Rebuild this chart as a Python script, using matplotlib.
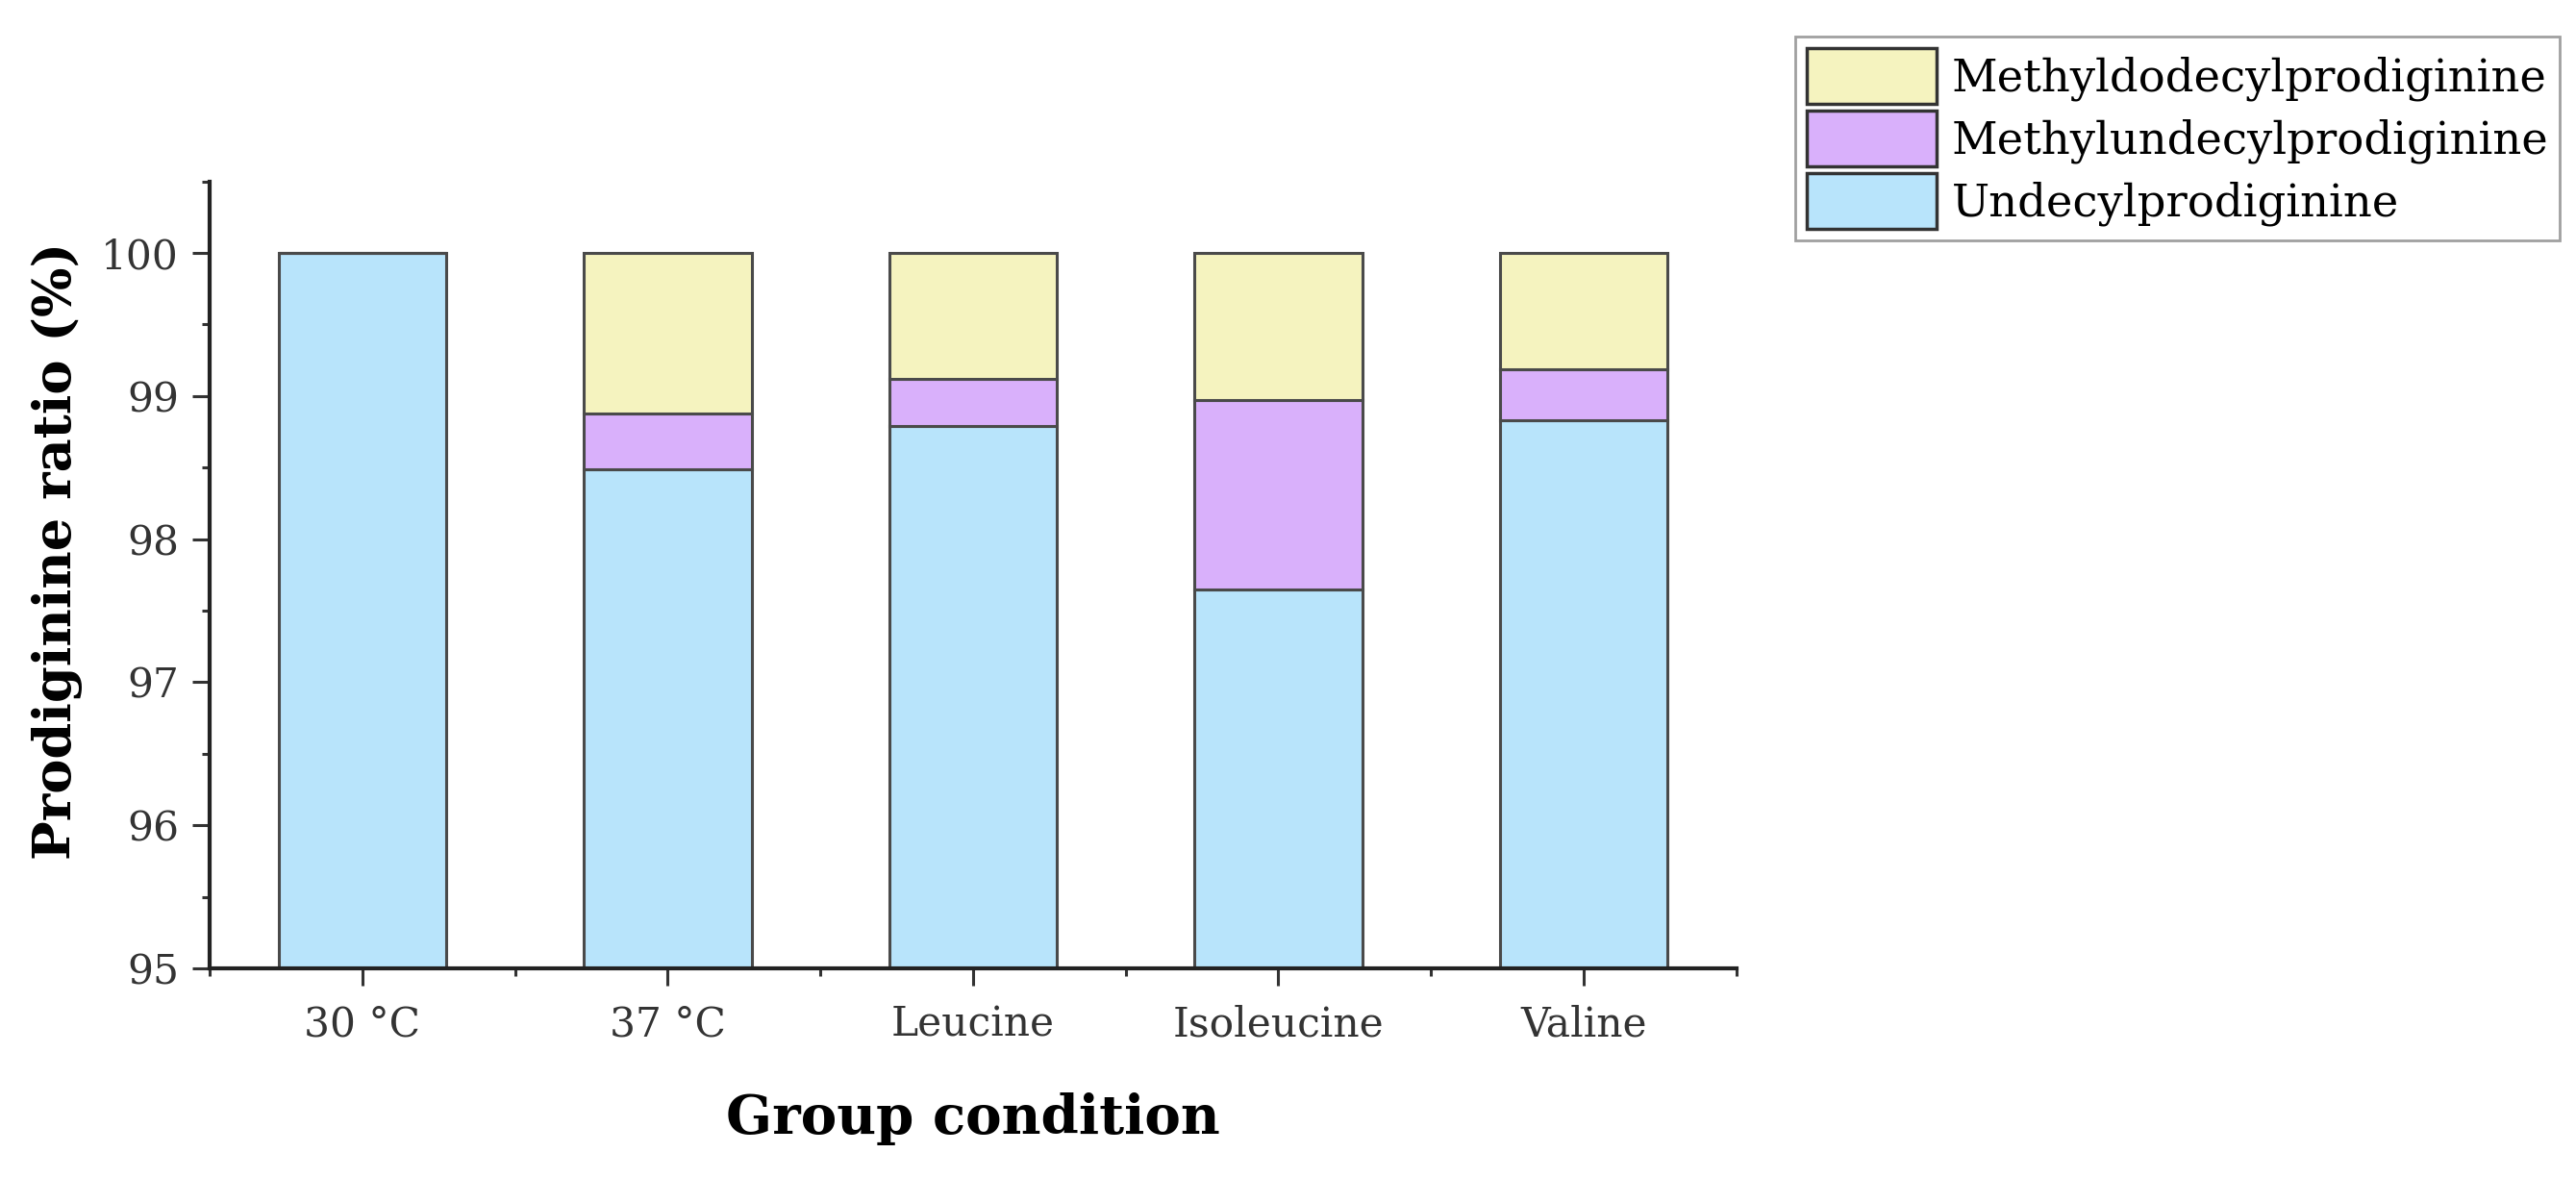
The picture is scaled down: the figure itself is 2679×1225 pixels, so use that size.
import matplotlib
matplotlib.use("Agg")
import matplotlib.pyplot as plt
import numpy as np
from matplotlib.ticker import MultipleLocator, FixedLocator

categories = ["30 °C", "37 °C", "Leucine", "Isoleucine", "Valine"]
undecyl = [100.0, 98.49, 98.79, 97.65, 98.83]
methylundecyl = [0.0, 0.39, 0.33, 1.32, 0.36]
methyldodecyl = [0.0, 1.12, 0.88, 1.03, 0.81]
series_names = ["Undecylprodiginine", "Methylundecylprodiginine", "Methyldodecylprodiginine"]
colors = ["#B8E4FB", "#D9B0FB", "#F5F3BF"]

plt.rcParams['font.family'] = ['DejaVu Serif']

fig = plt.figure(figsize=(26.79, 12.25), dpi=100)
ax = fig.add_axes([0.0814, 0.178, 0.5926, 0.668])

x = np.arange(len(categories))
w = 0.55
ec = "#4a4a4a"
b1 = ax.bar(x, undecyl, w, color=colors[0], edgecolor=ec, linewidth=2.2, label=series_names[0])
bottom2 = np.array(undecyl)
b2 = ax.bar(x, methylundecyl, w, bottom=bottom2, color=colors[1], edgecolor=ec, linewidth=2.2, label=series_names[1])
bottom3 = bottom2 + np.array(methylundecyl)
b3 = ax.bar(x, methyldodecyl, w, bottom=bottom3, color=colors[2], edgecolor=ec, linewidth=2.2, label=series_names[2])

ax.set_ylim(95, 100.5)
ax.set_xlim(-0.5, 4.5)
ax.set_xticks(x)
ax.set_xticklabels(categories)
ax.xaxis.set_minor_locator(FixedLocator(np.arange(-0.5, 4.6, 1.0)))
ax.set_yticks([95, 96, 97, 98, 99, 100])
ax.yaxis.set_minor_locator(MultipleLocator(0.5))

for s in ["top", "right"]:
    ax.spines[s].set_visible(False)
for s in ["left", "bottom"]:
    ax.spines[s].set_linewidth(3)
    ax.spines[s].set_color("#222222")

ax.tick_params(axis="both", which="major", direction="out", length=13, width=2.2,
               color="#333333", labelsize=30.5, labelcolor="#333333", pad=10)
ax.tick_params(axis="both", which="minor", direction="out", length=6, width=2.2, color="#333333")
ax.tick_params(axis="x", which="major", pad=14)

ax.set_ylabel("Prodiginine ratio (%)", fontsize=39, fontweight="bold")
ax.yaxis.set_label_coords(-0.083, 0.53)
ax.set_xlabel("Group condition", fontsize=40.5, fontweight="bold", labelpad=36)

handles = [b3, b2, b1]
labels = [series_names[2], series_names[1], series_names[0]]
leg = fig.legend(handles, labels, loc="upper left", bbox_to_anchor=(0.697, 0.969),
                 fontsize=33.5, frameon=True, fancybox=False, edgecolor="#888888",
                 handlelength=2.9, handleheight=1.55, labelspacing=0.15,
                 handletextpad=0.35, borderpad=0.25, borderaxespad=0)
leg.get_frame().set_linewidth(2)
for p in leg.get_patches():
    p.set_edgecolor("#333333")
    p.set_linewidth(2.5)

fig.savefig("out.png", dpi=100)
